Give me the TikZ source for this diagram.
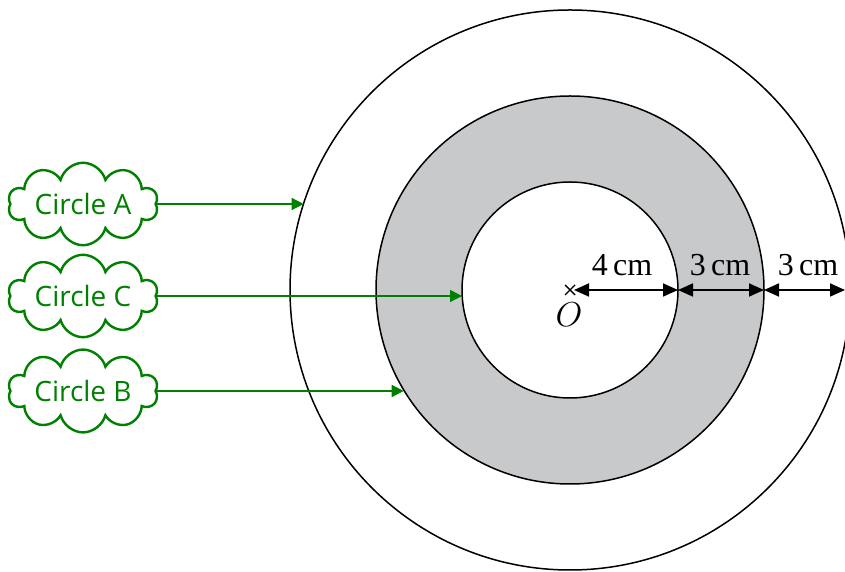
\documentclass[tikz,border=0pt]{standalone}
\usepackage{fontspec}
\setmainfont{Liberation Serif}
\newfontfamily\cloudfont{Open Sans}
\usetikzlibrary{shapes.symbols,arrows.meta}
\definecolor{cloudgreen}{RGB}{0,128,0}
\definecolor{ringgray}{RGB}{200,201,203}
\tikzset{
  label cloud/.style={cloud, cloud puffs=10, aspect=2.6, draw=cloudgreen, line width=1.2pt,
    minimum width=75pt, inner sep=0pt, text=cloudgreen,
    font=\cloudfont\fontsize{14}{16}\selectfont},
  pointer/.style={draw=cloudgreen, line width=0.7pt, -{Triangle[length=6pt,width=6pt]}},
  dim/.style={line width=0.9pt, {Triangle[length=7.5pt,width=6.5pt]}-{Triangle[length=7.5pt,width=6.5pt]}},
  ring/.style={circle, draw, line width=0.75pt, inner sep=0pt, outer sep=0pt},
  dimtext/.style={font=\fontsize{16}{18}\selectfont}
}

\begin{document}
\begin{tikzpicture}[x=0.5pt,y=0.5pt]
    \useasboundingbox (0,0) rectangle (845,572);
    \coordinate (O) at (570,282);
    \coordinate (edge) at (845,282);
    \node [ring, minimum size=280pt] (outer) at (O) {};
    \node [ring, fill=ringgray, minimum size=194pt] (middle) at (O) {};
    \node [ring, fill=white, minimum size=108pt] (inner) at (O) {};
    \draw [line width=0.7pt] (O) ++(-5,-5) -- ++(10,10) (O) ++(-5,5) -- ++(10,-10);
    \node [dimtext] (Olabel) at (569,257) {$O$};
    \draw [dim, shorten <=2pt] (O) -- (inner.east);
    \draw [dim] (inner.east) -- (middle.east);
    \draw [dim] (middle.east) -- (edge);
    \node [dimtext] (dimA) at (622,307) {4\,cm};
    \node [dimtext] (dimB) at (720,307) {3\,cm};
    \node [dimtext] (dimC) at (808,307) {3\,cm};
    \node [label cloud] (cloudA) at (83,368) {Circle A};
    \node [label cloud] (cloudC) at (83,276) {Circle C};
    \node [label cloud] (cloudB) at (83,181) {Circle B};
    \draw [pointer] (cloudA.east) -- (cloudA.east -| outer.162);
    \draw [pointer] (cloudC.east) -- (cloudC.east -| inner.west);
    \draw [pointer] (cloudB.east) -- (cloudB.east -| middle.211);
\end{tikzpicture}
\end{document}
